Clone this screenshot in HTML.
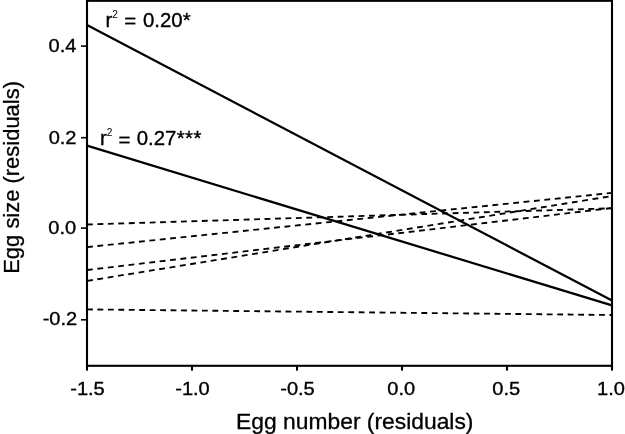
<!DOCTYPE html>
<html><head><meta charset="utf-8"><title>Egg size vs egg number</title>
<style>
html,body{margin:0;padding:0;background:#fff;}
svg{display:block}
text{font-family:"Liberation Sans",Arial,Helvetica,sans-serif;fill:#000}
.tl{font-size:20.2px;stroke:#000;stroke-width:0.35}
.tk{font-size:18.6px;stroke:#000;stroke-width:0.35}
.sup{font-size:10px;stroke:none}
.ax{font-size:21.6px;stroke:#000;stroke-width:0.3}
.ay{font-size:22.6px;stroke:#000;stroke-width:0.3}
.s{stroke:#000;stroke-width:2.25;fill:none}
.d{stroke:#000;stroke-width:1.85;fill:none;stroke-dasharray:5.85 4.6}
.f{stroke:#000;stroke-width:2.1;fill:none}
.t{stroke:#000;stroke-width:1.6}
.t2{stroke:#000;stroke-width:2.1}
</style></head><body>
<svg width="625" height="434" viewBox="0 0 625 434">
<rect x="0" y="0" width="625" height="434" fill="#fff"/>
<line x1="87" y1="25.1" x2="612" y2="300.6" class="s"/>
<line x1="87" y1="145.7" x2="612" y2="305.4" class="s"/>
<line x1="87" y1="224.5" x2="612" y2="208.3" class="d"/>
<line x1="87" y1="247.1" x2="612" y2="192.9" class="d"/>
<line x1="87" y1="270" x2="612" y2="208.0" class="d"/>
<line x1="87" y1="280.9" x2="612" y2="196.0" class="d"/>
<line x1="87" y1="309.4" x2="612" y2="315.0" class="d"/>
<rect x="87" y="0.8" width="525" height="365.0" class="f"/>
<line x1="81" y1="46.1" x2="87" y2="46.1" class="t"/>
<text class="tk" text-anchor="end" transform="translate(76.4 51.8) scale(1.078 1)">0.4</text>
<line x1="81" y1="137.7" x2="87" y2="137.7" class="t"/>
<text class="tk" text-anchor="end" transform="translate(76.5 143.5) scale(1.078 1)">0.2</text>
<line x1="81" y1="228.1" x2="87" y2="228.1" class="t"/>
<text class="tk" text-anchor="end" transform="translate(76.2 234.3) scale(1.078 1)">0.0</text>
<line x1="81" y1="319.8" x2="87" y2="319.8" class="t"/>
<text class="tk" text-anchor="end" transform="translate(77.2 325.4) scale(1.078 1)">-0.2</text>
<line x1="87" y1="365.8" x2="87" y2="370.6" class="t2"/>
<text class="tk" text-anchor="middle" transform="translate(87.5 394.5) scale(1.078 1)">-1.5</text>
<line x1="192" y1="365.8" x2="192" y2="370.6" class="t2"/>
<text class="tk" text-anchor="middle" transform="translate(192.5 394.5) scale(1.078 1)">-1.0</text>
<line x1="297" y1="365.8" x2="297" y2="370.6" class="t2"/>
<text class="tk" text-anchor="middle" transform="translate(297.5 394.5) scale(1.078 1)">-0.5</text>
<line x1="402" y1="365.8" x2="402" y2="370.6" class="t2"/>
<text class="tk" text-anchor="middle" transform="translate(401.2 394.5) scale(1.078 1)">0.0</text>
<line x1="507" y1="365.8" x2="507" y2="370.6" class="t2"/>
<text class="tk" text-anchor="middle" transform="translate(506.2 394.5) scale(1.078 1)">0.5</text>
<line x1="612" y1="365.8" x2="612" y2="370.6" class="t2"/>
<text class="tk" text-anchor="middle" transform="translate(611.0 394.5) scale(1.078 1)">1.0</text>
<text class="tl" transform="translate(105.5 27.0) scale(1.01 1)">r<tspan class="sup" dy="-9.5">2</tspan><tspan dy="10.8" dx="0.6"> =</tspan><tspan dy="-1.3" dx="1.2"> 0.20*</tspan></text>
<text class="tl" transform="translate(99.9 145.2) scale(1.01 1)">r<tspan class="sup" dy="-9.5">2</tspan><tspan dy="10.8" dx="0.6"> =</tspan><tspan dy="-1.3" dx="0.5"> 0.27</tspan><tspan dx="0.3" letter-spacing="0.4">***</tspan></text>
<text class="ax" text-anchor="middle" transform="translate(354.8 428.8) scale(1.058 1)">Egg number (residuals)</text>
<text class="ay" text-anchor="middle" transform="translate(19 177.4) rotate(-90) scale(0.972 1)">Egg size (residuals)</text>
</svg>
</body></html>
